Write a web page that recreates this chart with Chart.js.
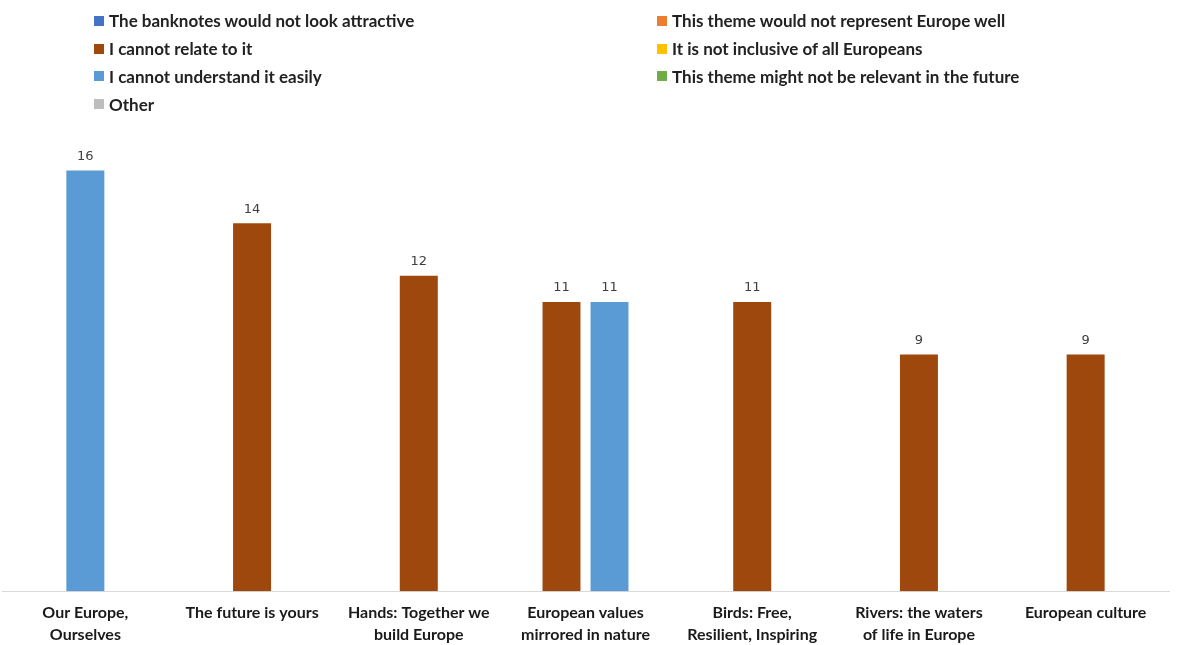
<!DOCTYPE html>
<html>
<head>
<meta charset="utf-8">
<script src="https://cdn.jsdelivr.net/npm/chart.js@4.4.1/dist/chart.umd.min.js"></script>
<style>
  html, body { margin: 0; padding: 0; background: #fff; }
  body { width: 1177px; height: 645px; position: relative; overflow: hidden; font-family: Lato, 'Noto Sans', sans-serif; }
  #legend {
    position: absolute; top: 7px; left: 94px; margin: 0; padding: 0; list-style: none;
    display: grid; grid-template-columns: 563px auto; grid-auto-rows: 27.8px; z-index: 2;
  }
  #legend li { display: flex; align-items: center; font-weight: bold; font-size: 17px; color: #222; white-space: nowrap; }
  #legend .box { width: 10px; height: 10px; margin-right: 5px; flex: none; }
  #wrap { position: absolute; left: 0; top: 0; width: 1177px; height: 660px; }
</style>
</head>
<body>
<ul id="legend"></ul>
<div id="wrap"><canvas id="chart"></canvas></div>
<script>
const categories = [
  ['Our Europe,', 'Ourselves'],
  ['The future is yours'],
  ['Hands: Together we', 'build Europe'],
  ['European values', 'mirrored in nature'],
  ['Birds: Free,', 'Resilient, Inspiring'],
  ['Rivers: the waters', 'of life in Europe'],
  ['European culture'],
];

const seriesNames = [
  'The banknotes would not look attractive',
  'This theme would not represent Europe well',
  'I cannot relate to it',
  'It is not inclusive of all Europeans',
  'I cannot understand it easily',
  'This theme might not be relevant in the future',
  'Other',
];
const seriesColors = ['#4472C4', '#ED7D31', '#9E480E', '#FFC000', '#5B9BD5', '#70AD47', '#BDBDBD'];

const notAttractive = [null, null, null, null, null, null, null];
const notRepresent = [null, null, null, null, null, null, null];
const cannotRelate = [null, 14, 12, 11, 11, 9, 9];
const notInclusive = [null, null, null, null, null, null, null];
const cannotUnderstand = [16, null, null, 11, null, null, null];
const notRelevant = [null, null, null, null, null, null, null];
const other = [null, null, null, null, null, null, null];

const seriesValues = [notAttractive, notRepresent, cannotRelate, notInclusive, cannotUnderstand, notRelevant, other];

const valueLabels = {
  id: 'valueLabels',
  afterDatasetsDraw(chart) {
    const { ctx } = chart;
    ctx.save();
    ctx.font = '13px "DejaVu Sans", sans-serif';
    ctx.fillStyle = '#404040';
    ctx.textAlign = 'center';
    ctx.textBaseline = 'middle';
    chart.data.datasets.forEach((ds, i) => {
      const meta = chart.getDatasetMeta(i);
      meta.data.forEach((bar, j) => {
        const v = ds.data[j];
        if (v === null || v === undefined) return;
        ctx.fillText(String(v), bar.x, bar.y - 14);
      });
    });
    ctx.restore();
  },
};

const chart = new Chart(document.getElementById('chart'), {
  type: 'bar',
  data: {
    labels: categories,
    datasets: seriesNames.map((name, i) => ({
      label: name,
      data: seriesValues[i],
      backgroundColor: seriesColors[i],
      skipNull: true,
      categoryPercentage: 0.576,
      barPercentage: 0.79,
      maxBarThickness: 38,
    })),
  },
  options: {
    responsive: true,
    maintainAspectRatio: false,
    animation: false,
    layout: { padding: { top: 118, left: 2, right: 8, bottom: 4 } },
    plugins: {
      legend: { display: false },
      tooltip: { enabled: false },
    },
    scales: {
      x: {
        grid: { display: false, drawTicks: false },
        border: { color: '#D9D9D9', width: 1 },
        ticks: {
          autoSkip: false,
          maxRotation: 0,
          padding: 10,
          color: '#1a1a1a',
          font: { family: 'Lato', weight: 'bold', size: 16, lineHeight: 1.4 },
        },
      },
      y: {
        display: false,
        min: 0,
        max: 18,
      },
    },
  },
  plugins: [valueLabels],
});

const legendList = document.getElementById('legend');
chart.data.datasets.forEach((ds) => {
  const li = document.createElement('li');
  const box = document.createElement('span');
  box.className = 'box';
  box.style.background = ds.backgroundColor;
  li.appendChild(box);
  li.appendChild(document.createTextNode(ds.label));
  legendList.appendChild(li);
});
</script>
</body>
</html>
